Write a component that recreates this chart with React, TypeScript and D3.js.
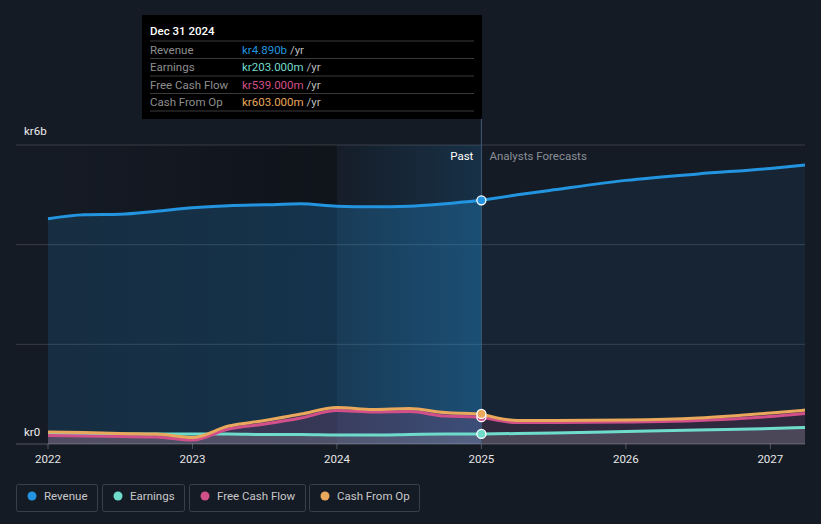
import React, { useEffect, useRef } from 'react';
import * as d3 from 'd3';

// values in kr billions, x as decimal years
const pastYears = [2022.0, 2022.25, 2022.5, 2022.75, 2023.0, 2023.25, 2023.5, 2023.75, 2024.0, 2024.25, 2024.5, 2024.75, 2025.0];
const pastRevenue = [4.52, 4.6, 4.61, 4.67, 4.74, 4.78, 4.8, 4.82, 4.77, 4.76, 4.77, 4.82, 4.89];
const pastEarnings = [0.2, 0.2, 0.2, 0.2, 0.2, 0.2, 0.19, 0.19, 0.18, 0.18, 0.19, 0.2, 0.203];
const pastFcf = [0.17, 0.16, 0.15, 0.14, 0.08, 0.3, 0.4, 0.52, 0.67, 0.64, 0.65, 0.56, 0.539];
const pastCfo = [0.24, 0.23, 0.21, 0.2, 0.13, 0.36, 0.47, 0.6, 0.73, 0.69, 0.71, 0.63, 0.603];

const fcYears = [2025.0, 2025.25, 2025.5, 2026.0, 2026.5, 2027.0, 2027.24];
const fcRevenue = [4.89, 5.0, 5.1, 5.29, 5.42, 5.53, 5.6];
const fcEarnings = [0.203, 0.21, 0.22, 0.25, 0.28, 0.31, 0.33];
const fcFcf = [0.539, 0.43, 0.43, 0.44, 0.47, 0.55, 0.61];
const fcCfo = [0.603, 0.47, 0.47, 0.48, 0.52, 0.62, 0.68];

const yearTicks = [2022, 2023, 2024, 2025, 2026, 2027];
const yGrid = [0, 2, 4, 6];

const seriesNames = ['Revenue', 'Earnings', 'Free Cash Flow', 'Cash From Op'];
const seriesColors = ['#2394df', '#6fdccb', '#d2508a', '#e9a85b'];
const tooltipValues = ['kr4.890b', 'kr203.000m', 'kr539.000m', 'kr603.000m'];

export default function App() {
    const ref = useRef<SVGSVGElement>(null);

    useEffect(() => {
        document.body.style.margin = '0';
        const width = 821;
        const height = 524;
        const font = 'Roboto, "Open Sans", sans-serif';

        const svg = d3.select(ref.current);
        svg.selectAll('*').remove();

        const x = d3.scaleLinear().domain([2022, 2027.24]).range([48, 805]);
        const y = d3.scaleLinear().domain([0, 6]).range([444, 145]);

        svg.append('rect').attr('width', width).attr('height', height).attr('fill', '#151b25');

        const defs = svg.append('defs');
        const pastGrad = defs.append('linearGradient').attr('id', 'pastRev').attr('x1', 0).attr('x2', 1).attr('y1', 0).attr('y2', 0);
        pastGrad.append('stop').attr('offset', '0%').attr('stop-color', '#2394df').attr('stop-opacity', 0.15);
        pastGrad.append('stop').attr('offset', '100%').attr('stop-color', '#2394df').attr('stop-opacity', 0.3);
        const darkGrad = defs.append('linearGradient').attr('id', 'darkPast').attr('x1', 0).attr('x2', 1).attr('y1', 0).attr('y2', 0);
        darkGrad.append('stop').attr('offset', '0%').attr('stop-color', '#000').attr('stop-opacity', 0);
        darkGrad.append('stop').attr('offset', '100%').attr('stop-color', '#000').attr('stop-opacity', 0.28);
        const hlGrad = defs.append('linearGradient').attr('id', 'hl').attr('x1', 0).attr('x2', 1).attr('y1', 0).attr('y2', 0);
        hlGrad.append('stop').attr('offset', '0%').attr('stop-color', '#2394df').attr('stop-opacity', 0.02);
        hlGrad.append('stop').attr('offset', '100%').attr('stop-color', '#2394df').attr('stop-opacity', 0.18);

        // past shading
        svg.append('rect')
            .attr('x', x(2022)).attr('y', y(6))
            .attr('width', x(2024) - x(2022)).attr('height', y(0) - y(6))
            .attr('fill', 'url(#darkPast)');
        svg.append('rect')
            .attr('x', x(2024)).attr('y', y(6))
            .attr('width', x(2025) - x(2024)).attr('height', y(0) - y(6))
            .attr('fill', 'url(#hl)');

        // grid
        svg.selectAll('line.grid')
            .data(yGrid.filter(d => d > 0))
            .enter()
            .append('line')
            .attr('x1', 16).attr('x2', 805)
            .attr('y1', d => y(d)).attr('y2', d => y(d))
            .attr('stroke', '#ffffff').attr('stroke-opacity', 0.15).attr('stroke-width', 1);

        const curve = d3.curveMonotoneX;
        const toPts = (xs: number[], vs: number[]) => xs.map((d, i) => [d, vs[i]] as [number, number]);
        const area = d3.area<[number, number]>().x(d => x(d[0])).y0(y(0)).y1(d => y(d[1])).curve(curve);
        const line = d3.line<[number, number]>().x(d => x(d[0])).y(d => y(d[1])).curve(curve);

        // revenue areas
        svg.append('path').attr('d', area(toPts(pastYears, pastRevenue))).attr('fill', 'url(#pastRev)');
        svg.append('path').attr('d', area(toPts(fcYears, fcRevenue))).attr('fill', '#2394df').attr('fill-opacity', 0.08);

        // lower areas
        const lowerAreas = [
            { xs: pastYears, vs: pastCfo, c: '#d2508a', o: 0.18 },
            { xs: fcYears, vs: fcCfo, c: '#d2508a', o: 0.14 },
            { xs: pastYears, vs: pastEarnings, c: '#9aa0a8', o: 0.25 },
            { xs: fcYears, vs: fcEarnings, c: '#9aa0a8', o: 0.25 },
        ];
        lowerAreas.forEach(a => {
            svg.append('path').attr('d', area(toPts(a.xs, a.vs))).attr('fill', a.c).attr('fill-opacity', a.o);
        });

        // axis line
        svg.append('line').attr('x1', 16).attr('x2', 805).attr('y1', y(0)).attr('y2', y(0))
            .attr('stroke', '#ffffff').attr('stroke-opacity', 0.25);

        // lines
        const allSeries = [
            { past: pastEarnings, fc: fcEarnings, c: seriesColors[1] },
            { past: pastFcf, fc: fcFcf, c: seriesColors[2] },
            { past: pastCfo, fc: fcCfo, c: seriesColors[3] },
            { past: pastRevenue, fc: fcRevenue, c: seriesColors[0] },
        ];
        allSeries.forEach(s => {
            svg.append('path').attr('d', line(toPts(pastYears, s.past)))
                .attr('fill', 'none').attr('stroke', s.c).attr('stroke-width', 3);
            svg.append('path').attr('d', line(toPts(fcYears, s.fc)))
                .attr('fill', 'none').attr('stroke', s.c).attr('stroke-width', 3);
        });

        // divider at 2025
        svg.append('line').attr('x1', x(2025)).attr('x2', x(2025)).attr('y1', 15).attr('y2', y(0))
            .attr('stroke', '#3d5a73').attr('stroke-width', 1);

        // markers
        [
            { v: pastFcf[pastFcf.length - 1], c: seriesColors[2] },
            { v: pastCfo[pastCfo.length - 1], c: seriesColors[3] },
            { v: pastEarnings[pastEarnings.length - 1], c: seriesColors[1] },
            { v: pastRevenue[pastRevenue.length - 1], c: seriesColors[0] },
        ].forEach(m => {
            svg.append('circle').attr('cx', x(2025)).attr('cy', y(m.v)).attr('r', 4.5)
                .attr('fill', m.c).attr('stroke', '#ffffff').attr('stroke-width', 1.3);
        });

        // x axis ticks and labels
        const xt = svg.append('g');
        xt.selectAll('line').data(yearTicks).enter().append('line')
            .attr('x1', d => x(d)).attr('x2', d => x(d)).attr('y1', y(0)).attr('y2', y(0) + 5)
            .attr('stroke', '#ffffff').attr('stroke-opacity', 0.25);
        xt.selectAll('text').data(yearTicks).enter().append('text')
            .attr('x', d => x(d)).attr('y', 463)
            .attr('text-anchor', 'middle')
            .style('font-family', font).style('font-size', '11.5px').attr('fill', '#e6e6e6')
            .text(d => d3.format('d')(d));

        // y labels
        svg.append('text').attr('x', 24).attr('y', 135).text('kr6b')
            .style('font-family', font).style('font-size', '11.5px').attr('fill', '#eeeeee');
        svg.append('text').attr('x', 24).attr('y', 436).text('kr0')
            .style('font-family', font).style('font-size', '11.5px').attr('fill', '#eeeeee');

        // past / forecast labels
        svg.append('text').attr('x', x(2025) - 8).attr('y', 160).attr('text-anchor', 'end').text('Past')
            .style('font-family', font).style('font-size', '11.5px').attr('fill', '#ffffff');
        svg.append('text').attr('x', x(2025) + 8).attr('y', 160).text('Analysts Forecasts')
            .style('font-family', font).style('font-size', '11.5px').attr('fill', '#8a8f96');

        // tooltip
        const tip = svg.append('g');
        tip.append('rect').attr('x', 142).attr('y', 15).attr('width', 340).attr('height', 104).attr('fill', '#000000');
        tip.append('text').attr('x', 150).attr('y', 35).text('Dec 31 2024')
            .style('font-family', font).style('font-size', '11.5px').style('font-weight', 500).attr('fill', '#ffffff');
        [41, 58.5, 76, 93.5, 111].forEach(ly => {
            tip.append('line').attr('x1', 150).attr('x2', 474).attr('y1', ly).attr('y2', ly)
                .attr('stroke', '#3a3a3a').attr('stroke-width', 1);
        });
        seriesNames.forEach((name, i) => {
            const ty = 53.5 + i * 17.5;
            tip.append('text').attr('x', 150).attr('y', ty).text(name)
                .style('font-family', font).style('font-size', '11.5px').attr('fill', '#8e8e8e');
            const t = tip.append('text').attr('x', 242).attr('y', ty)
                .style('font-family', font).style('font-size', '11.5px');
            t.append('tspan').attr('fill', seriesColors[i]).text(tooltipValues[i]);
            t.append('tspan').attr('fill', '#bbbbbb').text(' /yr');
        });

        // legend
        const legendBoxes = [[16, 81], [102, 82], [189, 116], [309, 110]];
        seriesNames.forEach((name, i) => {
            const [bx, bw] = legendBoxes[i];
            const g = svg.append('g');
            g.append('rect').attr('x', bx + 0.5).attr('y', 484.5).attr('width', bw).attr('height', 27).attr('rx', 2)
                .attr('fill', 'none').attr('stroke', '#3a404a').attr('stroke-width', 1);
            g.append('circle').attr('cx', bx + 16).attr('cy', 496).attr('r', 4.5).attr('fill', seriesColors[i]);
            g.append('text').attr('x', bx + 28).attr('y', 500).text(name)
                .style('font-family', font).style('font-size', '11.5px').attr('fill', '#c8c8c8');
        });
    }, []);

    return (
        <div>
            <svg ref={ref} width={821} height={524} style={{ display: 'block' }}></svg>
        </div>
    );
}
